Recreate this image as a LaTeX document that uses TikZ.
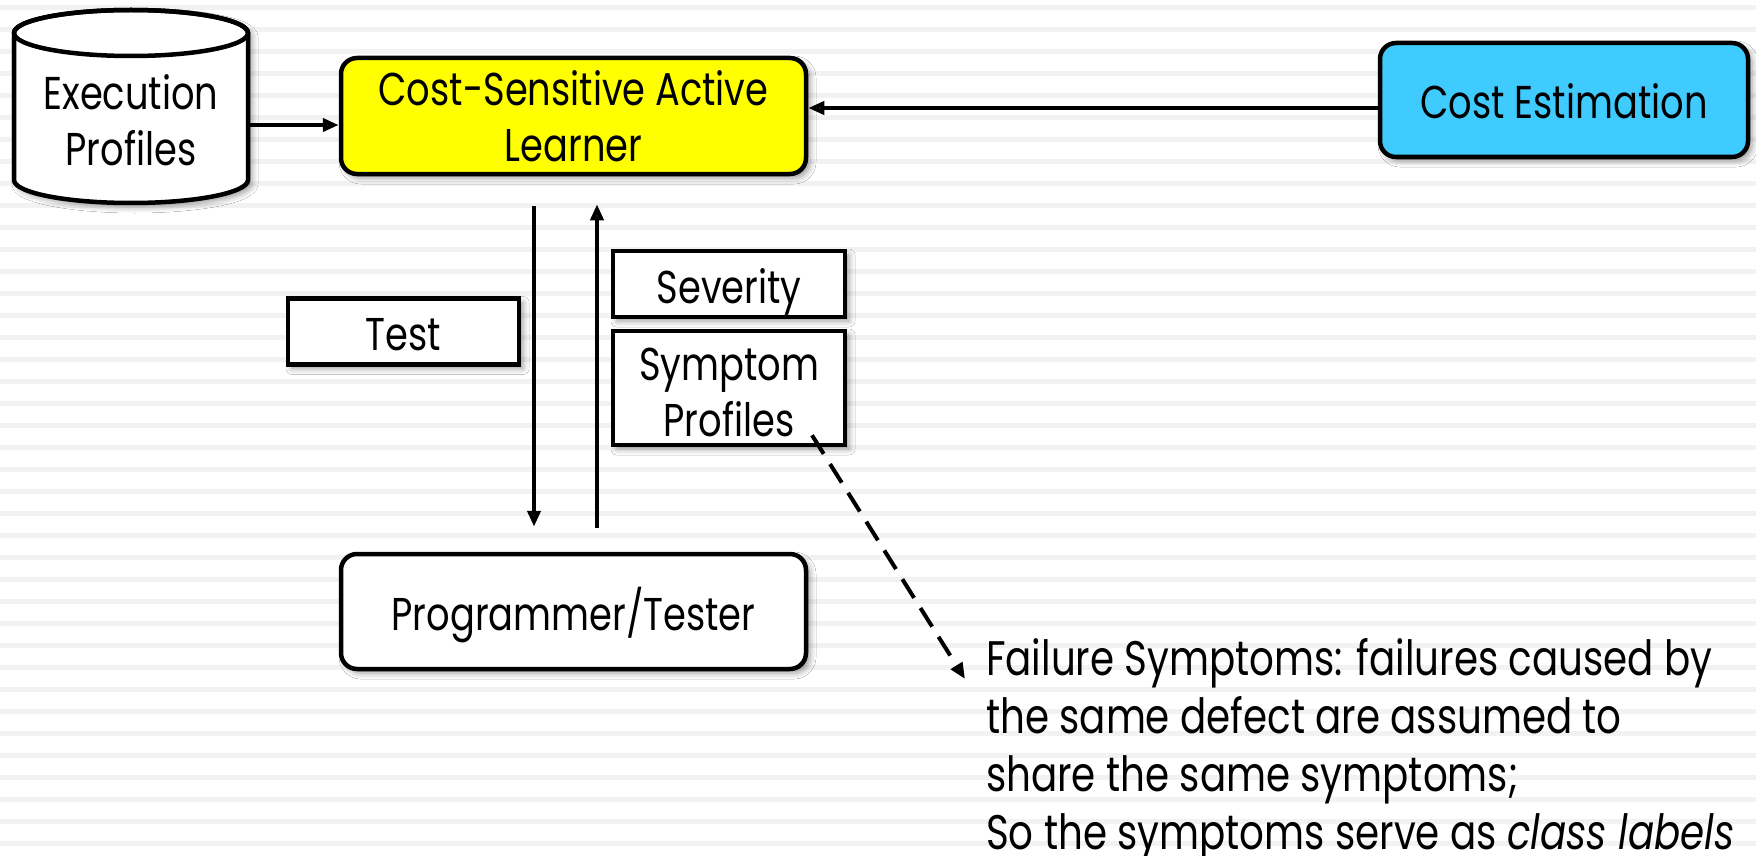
\documentclass[tikz,border=0pt]{standalone}
\usepackage{fontspec}
\setmainfont{Poppins}[FakeStretch=0.8]
\usetikzlibrary{arrows.meta,shadows.blur}
\definecolor{stripe}{HTML}{F2F2F2}
\definecolor{learner}{HTML}{FFFF00}
\definecolor{estim}{HTML}{40CBFF}
\newcommand\lblfont{\fontsize{46}{56}\selectfont}
\newcommand\notefont{\fontsize{48.5}{58}\selectfont}

\begin{document}
\begin{tikzpicture}[x=1pt,y=-1pt,
  softshadow/.style={blur shadow={shadow xshift=4pt, shadow yshift=-4pt,
      shadow blur radius=6pt, shadow opacity=40}},
  box/.style={draw=black, line width=4.5pt, fill=white, inner sep=0pt,
      align=center, font=\lblfont, softshadow},
  oneline/.style={text height=45pt, text depth=7pt},
  rbox/.style={box, rounded corners=16pt},
  arr/.style={line width=4pt, -{Triangle[length=16pt,width=13pt]}},
  darr/.style={line width=4pt, dash pattern=on 22pt off 12pt,
      -{Triangle[length=16pt,width=13pt]}}]

\useasboundingbox (0,0) rectangle (1756,856);

% striped page background
\fill[white] (0,0) rectangle (1756,856);
\foreach \k in {0,...,38}
  \fill[stripe] (0,5+22*\k) rectangle (1756,10+22*\k);

% database cylinder
\path[draw=black, line width=4.5pt, fill=white, softshadow]
  (14,33) -- (14,180) arc[start angle=180, end angle=0, x radius=117, y radius=23]
  -- (248,33) arc[start angle=0, end angle=-180, x radius=117, y radius=23] -- cycle;
\draw[line width=4.5pt] (131,33) ellipse[x radius=117, y radius=23];
\node[inner sep=0pt, minimum width=234pt, align=center, font=\lblfont]
  (exec) at (131,120.5) {Execution\\Profiles};

% boxes
\node[rbox, fill=learner, minimum width=465pt, minimum height=116pt]
  (csal) at (573.5,116) {Cost-Sensitive Active\\Learner};
\node[rbox, oneline, fill=estim, minimum width=368pt, minimum height=114pt]
  (cost) at (1564,100) {Cost Estimation};
\node[rbox, oneline, minimum width=465pt, minimum height=115pt]
  (prog) at (573.5,611.5) {Programmer/Tester};
\node[box, oneline, minimum width=231pt, minimum height=66pt]
  (test) at (403.5,331.5) {Test};
\node[box, oneline, minimum width=232pt, minimum height=66pt]
  (sev) at (729,284) {Severity};
\node[box, minimum width=232pt, minimum height=114pt,
  label={[align=center, font=\lblfont, inner sep=0pt, yshift=-4pt]center:{Symptom\\Profiles}}]
  (sym) at (729,388) {};

% annotation
\node[anchor=north west, inner sep=0pt, align=left, font=\notefont]
  (note) at (986,638) {Failure Symptoms: failures caused by\\
  the same defect are assumed to\\
  share the same symptoms;\\
  So the symptoms serve as \textit{class labels}};

% connectors
\draw[arr] ([yshift=-4.5pt]exec.east) -- ([yshift=-4.5pt]exec.east -| csal.west);
\draw[arr] ([yshift=-8pt]cost.west) -- ([yshift=-8pt]cost.west -| csal.east);
\draw[arr, shorten <=30pt, shorten >=25pt]
  ([xshift=-39.5pt]csal.south) -- ([xshift=-39.5pt]prog.north);
\draw[arr, shorten <=24pt, shorten >=28pt]
  ([xshift=23.5pt]prog.north) -- ([xshift=23.5pt]csal.south);
\coordinate (dstart) at ([xshift=83pt, yshift=12pt]sym.south);
\coordinate (dend) at ([xshift=-21pt, yshift=-41pt]note.north west);
\draw[darr] (dstart) -- (dend);

\end{tikzpicture}
\end{document}
